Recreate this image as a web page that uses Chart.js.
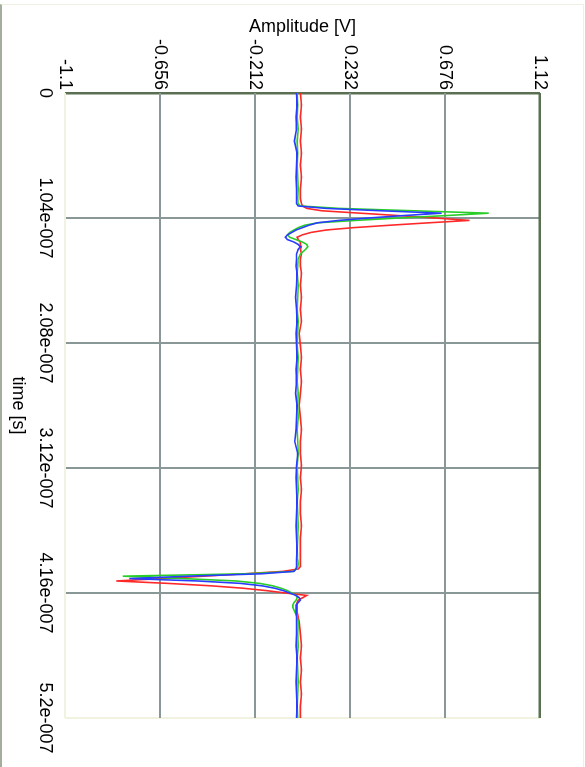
<!DOCTYPE html>
<html>
<head>
<meta charset="utf-8">
<script src="https://cdn.jsdelivr.net/npm/chart.js@4/dist/chart.umd.min.js"></script>
<style>
	html, body { margin: 0; padding: 0; background: #ffffff; overflow: hidden; }
	#frame {
		position: absolute; left: 0; top: 4px; width: 581px; height: 763px;
		border-left: 2px solid #a3ae9c; border-top: 1px solid #f0f0e2; border-right: 1px solid #f0f0e2;
	}
	/* chart is drawn landscape, then turned a quarter turn clockwise */
	#scope {
		position: absolute; left: 0; top: 0;
		transform-origin: 0 0;
		transform: translate(585px, 0) rotate(90deg);
	}
</style>
</head>
<body>
<div id="frame"></div>
<canvas id="scope" width="767" height="585"></canvas>
<script>
// time in ns
const times = [0, 10, 20, 30, 40, 50, 60, 70, 80, 88,
	92, 94, 96, 98, 100, 102, 104, 106, 108, 110,
	112, 114, 116, 118, 120, 122, 124, 126, 128, 130,
	134, 138, 144, 150, 160, 170, 180, 190, 200, 210,
	220, 230, 240, 250, 260, 270, 280, 290, 300, 310,
	320, 330, 340, 350, 360, 370, 380, 388, 392, 394,
	396, 398, 400, 402, 404, 406, 408, 410, 412, 414,
	416, 418, 420, 422, 424, 426, 428, 432, 436, 440,
	450, 460, 470, 480, 490, 500, 510, 520];

const redAmp = [0.00, 0.005, 0.00, 0.005, 0.00, 0.005, 0.00, 0.005, 0.00, 0.00,
	0.005, 0.01, 0.03, 0.10, 0.28, 0.46, 0.63, 0.79, 0.60, 0.42,
	0.25, 0.12, 0.05, 0.01, -0.015, -0.01, 0.00, 0.00, 0.005, 0.00,
	0.005, 0.00, 0.00, 0.005, 0.00, 0.005, 0.00, 0.005, -0.005, 0.00,
	0.005, 0.00, 0.005, 0.00, -0.005, 0.00, 0.005, 0.00, 0.00, 0.005,
	0.00, 0.005, 0.00, 0.00, 0.005, 0.00, 0.00, 0.00, 0.00, 0.00,
	-0.01, -0.08, -0.26, -0.45, -0.65, -0.86, -0.62, -0.42, -0.27, -0.16,
	-0.07, 0.03, 0.01, -0.01, -0.015, -0.015, -0.015, -0.015, -0.01, -0.005,
	0.00, 0.005, 0.00, 0.005, 0.00, 0.005, 0.00, 0.00];

const greenAmp = [-0.015, -0.012, -0.015, -0.01, -0.015, -0.012, -0.015, -0.012, -0.01, -0.012,
	-0.01, 0.00, 0.18, 0.53, 0.88, 0.68, 0.46, 0.26, 0.08, 0.02,
	-0.01, -0.03, -0.05, -0.06, -0.05, -0.02, 0.01, 0.03, 0.035, 0.025,
	0.00, -0.01, -0.012, -0.015, -0.01, -0.012, -0.015, -0.01, -0.012, -0.015,
	-0.01, -0.012, -0.015, -0.01, -0.012, -0.01, -0.015, -0.012, -0.01, -0.015,
	-0.012, -0.01, -0.015, -0.012, -0.01, -0.012, -0.015, -0.012, -0.01, -0.012,
	-0.02, -0.03, -0.25, -0.83, -0.55, -0.30, -0.19, -0.13, -0.09, -0.06,
	-0.04, -0.02, -0.015, -0.02, -0.03, -0.035, -0.035, -0.025, -0.015, -0.01,
	-0.012, -0.01, -0.015, -0.012, -0.01, -0.012, -0.015, -0.012];

const blueAmp = [-0.018, -0.015, -0.02, -0.018, -0.028, -0.015, -0.018, -0.02, -0.018, -0.018,
	-0.018, -0.01, 0.12, 0.38, 0.66, 0.48, 0.32, 0.18, 0.08, 0.04,
	0.01, -0.02, -0.04, -0.06, -0.07, -0.06, -0.03, -0.01, 0.00, -0.01,
	-0.018, -0.018, -0.02, -0.015, -0.018, -0.022, -0.018, -0.015, -0.02, -0.018,
	-0.015, -0.02, -0.018, -0.022, -0.015, -0.018, -0.02, -0.026, -0.012, -0.018,
	-0.02, -0.018, -0.015, -0.018, -0.02, -0.018, -0.015, -0.018, -0.018, -0.018,
	-0.02, -0.03, -0.18, -0.52, -0.80, -0.48, -0.28, -0.18, -0.12, -0.08,
	-0.05, -0.02, -0.005, 0.00, -0.01, -0.02, -0.02, -0.02, -0.018, -0.018,
	-0.018, -0.02, -0.015, -0.018, -0.02, -0.018, -0.015, -0.018];

const timeTicks = [0, 104, 208, 312, 416, 520];
const timeLabels = ["0", "1.04e-007", "2.08e-007", "3.12e-007", "4.16e-007", "5.2e-007"];
const ampTicks = [-1.1, -0.656, -0.212, 0.232, 0.676, 1.12];
const ampLabels = ["-1.1", "-0.656", "-0.212", "0.232", "0.676", "1.12"];

const GRID = "#8a9797";
const DARK_EDGE = "#5b7052";
const PALE_EDGE = "#f2f2e0";
const tickFont = { family: "'Liberation Sans Narrow', 'Arial Narrow', 'Liberation Sans', Arial", size: 18 };
const titleFont = { family: "'Liberation Sans', Arial, sans-serif", size: 18 };

function toPoints(values) {
	return times.map((t, i) => ({ x: t, y: values[i] }));
}

function makeSeries(label, values, color) {
	return {
		label: label,
		data: toPoints(values),
		borderColor: color,
		backgroundColor: color,
		borderWidth: 1.6,
		pointRadius: 0,
		tension: 0,
		fill: false,
	};
}

function edgeColor(value, darkValue, paleValue) {
	if (value === darkValue) return DARK_EDGE;
	if (value === paleValue) return PALE_EDGE;
	return GRID;
}

const ctx = document.getElementById("scope").getContext("2d");

new Chart(ctx, {
	type: "line",
	data: {
		datasets: [
			makeSeries("ch2", blueAmp, "rgb(40, 60, 255)"),
			makeSeries("ch3", greenAmp, "rgb(40, 205, 40)"),
			makeSeries("ch1", redAmp, "rgb(255, 40, 40)"),
		],
	},
	options: {
		responsive: false,
		animation: false,
		devicePixelRatio: 1,
		layout: { padding: { left: 0, right: 49, top: 45, bottom: 0 } },
		plugins: { legend: { display: false }, tooltip: { enabled: false } },
		scales: {
			x: {
				type: "linear",
				min: 0,
				max: 520,
				afterBuildTicks: (scale) => {
					scale.ticks = timeTicks.map((v) => ({ value: v }));
				},
				afterFit: (scale) => {
					scale.height = 65;
				},
				ticks: {
					autoSkip: false,
					maxRotation: 0,
					padding: 9,
					color: "#000",
					font: tickFont,
					callback: (value, index) => timeLabels[index],
				},
				grid: {
					drawTicks: false,
					color: (c) => edgeColor(c.tick.value, 0, 520),
					lineWidth: (c) => (c.tick.value === 0 ? 2.5 : 2),
				},
				border: { display: false },
				title: {
					display: true,
					text: "time [s]",
					color: "#000",
					font: titleFont,
					padding: { top: 0, bottom: 7 },
				},
			},
			y: {
				min: -1.1,
				max: 1.12,
				afterBuildTicks: (scale) => {
					scale.ticks = ampTicks.map((v) => ({ value: v }));
				},
				afterFit: (scale) => {
					scale.width = 93;
				},
				ticks: {
					autoSkip: false,
					padding: 3,
					color: "#000",
					font: tickFont,
					callback: (value, index) => ampLabels[index],
				},
				grid: {
					drawTicks: false,
					color: (c) => edgeColor(c.tick.value, 1.12, -1.1),
					lineWidth: (c) => (c.tick.value === 1.12 ? 2.5 : 2),
				},
				border: { display: false },
				title: {
					display: true,
					text: "Amplitude [V]",
					color: "#000",
					font: titleFont,
					padding: { top: 16, bottom: 0 },
				},
			},
		},
	},
});
</script>
</body>
</html>
